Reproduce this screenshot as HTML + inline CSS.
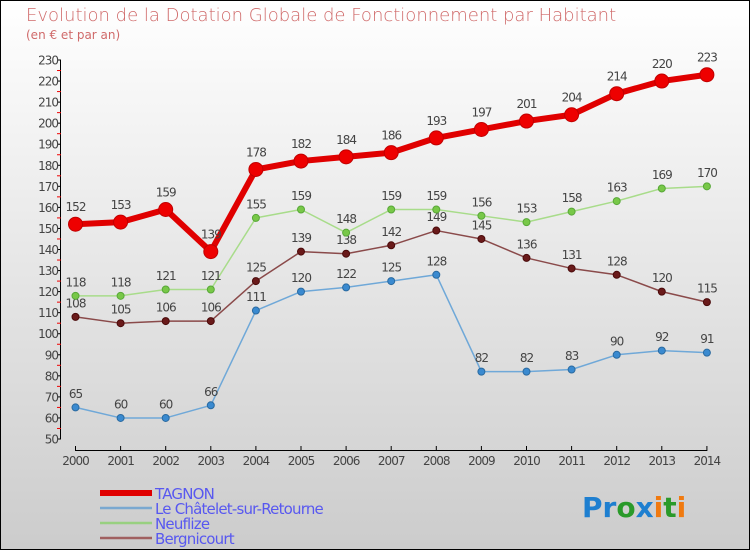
<!DOCTYPE html>
<html><head><meta charset="utf-8"><style>
body{margin:0}
#c{position:relative;width:750px;height:550px;overflow:hidden;font-family:"DejaVu Sans","Liberation Sans",sans-serif}
</style></head><body>
<div id="c">
<svg id="s" width="750" height="550" xmlns="http://www.w3.org/2000/svg">
<defs><linearGradient id="bg" x1="0" y1="0" x2="0" y2="1"><stop offset="0" stop-color="#ffffff"/><stop offset="1" stop-color="#cccccc"/></linearGradient></defs>
<rect x="0.5" y="0.5" width="749" height="549" fill="url(#bg)" stroke="#000"/>
<text x="26" y="21" font-size="18" fill="#d06a6a" style="font-family:'DejaVu Sans',sans-serif;font-weight:200">Evolution de la Dotation Globale de Fonctionnement par Habitant</text>
<text x="26" y="39" font-size="12" fill="#d06a6a">(en € et par an)</text>
<g id="axes"></g><g id="series"></g><g id="legend"></g>
<text x="582" y="517" font-size="28" font-weight="bold"><tspan fill="#1e7fd0">Pr</tspan><tspan fill="#2a9a2a">o</tspan><tspan fill="#1e7fd0">x</tspan><tspan fill="#f07a10">i</tspan><tspan fill="#2a9a2a">t</tspan><tspan fill="#f07a10">i</tspan></text>
</svg></div>
<script>
const years=[2000,2001,2002,2003,2004,2005,2006,2007,2008,2009,2010,2011,2012,2013,2014];
const tagnon=[152,153,159,139,178,182,184,186,193,197,201,204,214,220,223];
const chatelet=[65,60,60,66,111,120,122,125,128,82,82,83,90,92,91];
const neuflize=[118,118,121,121,155,159,148,159,159,156,153,158,163,169,170];
const bergnicourt=[108,105,106,106,125,139,138,142,149,145,136,131,128,120,115];
const yTicks=[50,60,70,80,90,100,110,120,130,140,150,160,170,180,190,200,210,220,230];
const NS="http://www.w3.org/2000/svg";
const X=i=>75.5+i*45.1;
const Y=v=>60+(230-v)*379/180;
function mk(p,t,a){const e=document.createElementNS(NS,t);for(const k in a)e.setAttribute(k,a[k]);p.appendChild(e);return e;}
const ax=document.getElementById('axes');
const ya=mk(ax,'line',{x1:60.5,y1:Y(230),x2:60.5,y2:Y(50),stroke:'#000'});


yTicks.forEach(v=>{
 mk(ax,'line',{x1:57,x2:61,y1:Y(v),y2:Y(v),stroke:'#000'});
 if(v<230)mk(ax,'line',{x1:57,x2:61,y1:Y(v+5),y2:Y(v+5),stroke:'#e00'});
 const t=mk(ax,'text',{x:58,y:Y(v)+4.5,'font-size':12,'text-anchor':'end',fill:'#444','letter-spacing':'-1'});
 t.textContent=v;
 
 
});
const xa=mk(ax,'line',{x1:X(0),x2:X(14),y1:450.5,y2:450.5,stroke:'#000'});


years.forEach((y,i)=>{
 mk(ax,'line',{x1:X(i),x2:X(i),y1:446,y2:451,stroke:'#000'});
 const t=mk(ax,'text',{x:X(i),y:465,'font-size':12,'text-anchor':'middle',fill:'#444','letter-spacing':'-1'});
 t.textContent=y;
 
 
});
const sg=document.getElementById('series');
function series(name,d,col,w,r,dot,dotStroke){
 const g=mk(sg,'g',{});
 
 
 const pl=mk(g,'polyline',{points:d.map((v,i)=>X(i)+','+Y(v)).join(' '),fill:'none',stroke:col,'stroke-width':w,'stroke-linejoin':'round'});
 
 
 d.forEach((v,i)=>{
  const c=mk(g,'circle',{cx:X(i),cy:Y(v),r:r,fill:dot,stroke:dotStroke,'stroke-width':1});
  
  
  const t=mk(g,'text',{x:X(i),y:Y(v)-(r+6),'font-size':12,'text-anchor':'middle',fill:'#444','letter-spacing':'-1'});
  t.textContent=v;
  
  
 });
}
series('chatelet',chatelet,'#6fa8d8',1.5,3.5,'#3a8ad0','#2a6aa0');
series('bergnicourt',bergnicourt,'#8a4a4a',1.5,3.5,'#6a1a1a','#4a0a0a');
series('neuflize',neuflize,'#a8dc8a',1.5,3.5,'#78c848','#58a838');
series('tagnon',tagnon,'#e00000',6,7,'#ee0000','#c00000');
const lg=document.getElementById('legend');
const items=[['TAGNON','#e00000',6],['Le Châtelet-sur-Retourne','#7aa8d0',2.5],['Neuflize','#98d080',2.5],['Bergnicourt','#a06060',2.5]];
items.forEach((it,i)=>{
 const y=493+i*15;
 const g=mk(lg,'g',{});
 
 
 mk(g,'line',{x1:100,x2:152,y1:y,y2:y,stroke:it[1],'stroke-width':it[2]});
 const t=mk(g,'text',{x:155,y:y+6,'font-size':15,fill:'#5858f0','letter-spacing':'-0.8'});
 t.textContent=it[0];
});
</script>
</body></html>
